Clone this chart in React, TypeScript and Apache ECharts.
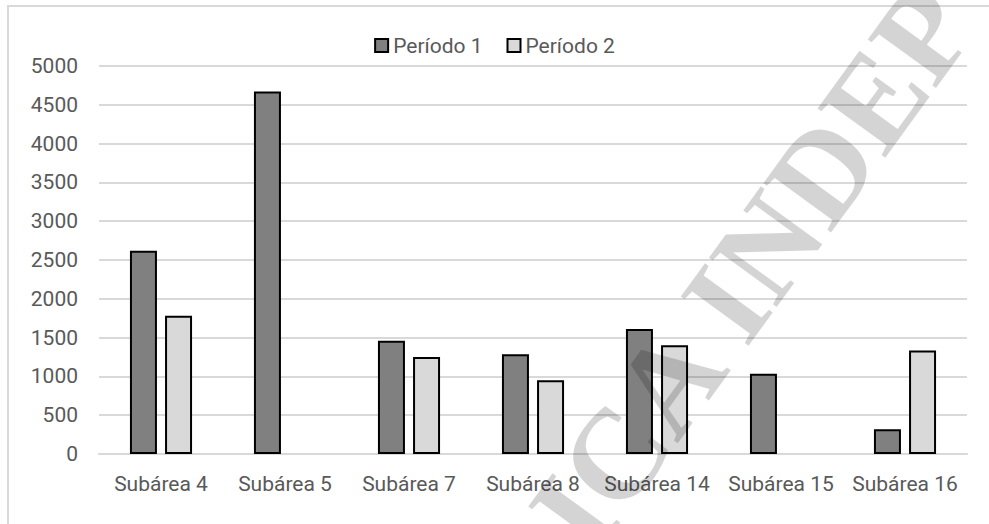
import React, { useEffect, useRef } from "react";
import * as echarts from "echarts";

const categories = ["Subárea 4", "Subárea 5", "Subárea 7", "Subárea 8", "Subárea 14", "Subárea 15", "Subárea 16"];
const periodo1 = [2620, 4670, 1460, 1285, 1610, 1035, 320];
const periodo2 = [1780, null, 1250, 950, 1400, null, 1335];
const seriesNames = ["Período 1", "Período 2"];
const yTicks = { min: 0, max: 5000, interval: 500 };
const watermarkText = "ICA INDEP";

const FONT = "Roboto, 'Noto Sans', sans-serif";
const TEXT_COLOR = "#595959";

export default function App() {
  const ref = useRef<HTMLDivElement>(null);
  useEffect(() => {
    if (!ref.current) return;
    const chart = echarts.init(ref.current, null, { renderer: "svg" });
    chart.setOption({
      animation: false,
      backgroundColor: "#ffffff",
      legend: {
        top: 30,
        left: "center",
        icon: "rect",
        itemWidth: 13,
        itemHeight: 13,
        itemGap: 24,
        itemStyle: { borderColor: "#000000", borderWidth: 2 },
        textStyle: { color: TEXT_COLOR, fontSize: 21, fontFamily: FONT, padding: [0, 0, 0, 0] },
        data: seriesNames,
      },
      grid: { left: 99, right: 22, top: 66, bottom: 70, containLabel: false },
      xAxis: {
        type: "category",
        data: categories,
        axisLine: { lineStyle: { color: "#d9d9d9", width: 2 } },
        axisTick: { show: false },
        axisLabel: { color: TEXT_COLOR, fontSize: 21, fontFamily: FONT, margin: 19, interval: 0 },
      },
      yAxis: {
        type: "value",
        min: yTicks.min,
        max: yTicks.max,
        interval: yTicks.interval,
        axisLine: { show: false },
        axisTick: { show: false },
        axisLabel: {
          color: TEXT_COLOR,
          fontSize: 21,
          fontFamily: FONT,
          margin: 21,
          formatter: (v: number) => String(v),
        },
        splitLine: { lineStyle: { color: "#d9d9d9", width: 2 } },
      },
      series: [
        {
          name: seriesNames[0],
          type: "bar",
          data: periodo1,
          barWidth: 27,
          barGap: "30%",
          itemStyle: { color: "#808080", borderColor: "#000000", borderWidth: 2 },
        },
        {
          name: seriesNames[1],
          type: "bar",
          data: periodo2,
          barWidth: 27,
          barGap: "30%",
          itemStyle: { color: "#d9d9d9", borderColor: "#000000", borderWidth: 2 },
        },
      ],
      graphic: [
        {
          type: "rect",
          silent: true,
          z: 1,
          shape: { x: 8, y: 6, width: 1100, height: 700 },
          style: { fill: "none", stroke: "#d9d9d9", lineWidth: 2 },
        },
        {
          type: "text",
          silent: true,
          z: 100,
          x: 752,
          y: 268,
          rotation: (54 * Math.PI) / 180,
          style: {
            text: watermarkText,
            fill: "rgba(0,0,0,0.17)",
            font: "bold 128px 'Liberation Serif', 'DejaVu Serif', serif",
            align: "center",
            verticalAlign: "middle",
          },
        },
      ],
    });
    return () => chart.dispose();
  }, []);
  return (
    <div
      ref={ref}
      style={{ position: "fixed", left: 0, top: 0, width: 989, height: 524 }}
    />
  );
}
